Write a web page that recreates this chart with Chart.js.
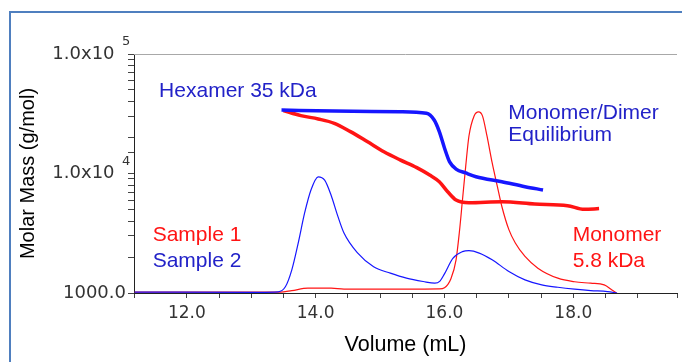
<!DOCTYPE html>
<html>
<head>
<meta charset="utf-8">
<script src="https://cdn.jsdelivr.net/npm/chart.js@4/dist/chart.umd.min.js"></script>
<style>
  html, body { margin: 0; padding: 0; background: #fff; }
</style>
</head>
<body>
<canvas id="chart" width="682" height="362"></canvas>
<script>
// ── Chromatograms (volume in mL, detector signal in % of full scale) ─────────
const s1Vol    = [11.19, 13.45, 13.63, 13.88, 14.24, 14.44, 15.41, 15.92, 16.0, 16.1, 16.18, 16.23, 16.28, 16.33, 16.38, 16.46, 16.53, 16.59, 16.66, 16.74, 16.82, 16.89, 17.0, 17.1, 17.25, 17.45, 17.76, 18.02, 18.27, 18.48, 18.6, 18.67];
const s1Signal = [0.4, 0.4, 1.0, 2.0, 2.0, 1.6, 1.6, 1.7, 2.2, 6.0, 13.9, 25.1, 39.1, 53.1, 65.7, 74.1, 75.8, 74.1, 65.7, 54.5, 44.7, 36.3, 26.5, 20.9, 15.3, 10.4, 6.2, 4.7, 4.1, 3.4, 1.3, 0];

const s2Vol    = [11.19, 13.12, 13.42, 13.53, 13.63, 13.73, 13.83, 13.93, 14.04, 14.14, 14.24, 14.34, 14.44, 14.65, 14.9, 15.16, 15.41, 15.67, 15.85, 15.93, 16.0, 16.13, 16.28, 16.38, 16.54, 16.74, 17.0, 17.25, 17.51, 17.76, 18.02, 18.27, 18.53, 18.68];
const s2Signal = [0.4, 0.3, 0.5, 2.6, 9.7, 21, 33.6, 43.3, 48.6, 47.2, 40.9, 32.5, 25.1, 16.8, 11.0, 8.3, 6.2, 4.8, 4.1, 5.0, 8.0, 14.5, 17.3, 17.7, 16.7, 13.9, 9.0, 5.5, 3.4, 2.4, 1.6, 1.0, 0.6, 0];

// ── Molar mass across the peaks (g/mol) ───────────────────────────────────────
const s1MassVol = [13.5, 13.77, 14.04, 14.29, 14.54, 14.8, 15.06, 15.31, 15.57, 15.77, 15.92, 16.05, 16.18, 16.38, 16.89, 17.4, 17.91, 18.17, 18.4];
const s1Mass    = [33700, 30500, 28600, 26300, 22400, 18500, 15200, 13000, 11200, 9710, 8540, 7040, 6000, 5700, 5810, 5560, 5380, 5010, 5090];

const s2MassVol = [13.47, 14.29, 15.31, 15.72, 15.84, 15.92, 16.0, 16.08, 16.18, 16.33, 16.49, 16.89, 17.25, 17.53];
const s2Mass    = [34000, 33300, 32900, 31900, 28000, 22400, 16350, 12500, 10900, 10100, 9400, 8540, 7760, 7280];

// ── Axis labels ───────────────────────────────────────────────────────────────
const xLabelVols = [12, 14, 16, 18];
const yLabels = { 1000: "1000.0", 10000: "1.0x10  ", 100000: "1.0x10  " };
const yExponents = { 10000: "4", 100000: "5" };

// ── Text notes placed in data coordinates ─────────────────────────────────────
const RED = "#ff1414", BLUE = "#1616ff";
const notes = [
  { text: "Hexamer 35 kDa", vol: 11.57, mass: 49000, color: "#2222c8" },
  { text: "Monomer/Dimer",  vol: 16.99, mass: 32100, color: "#2222c8" },
  { text: "Equilibrium",    vol: 16.99, mass: 21000, color: "#2222c8" },
  { text: "Sample 1",       vol: 11.47, mass: 3060,  color: RED },
  { text: "Sample 2",       vol: 11.47, mass: 1850,  color: "#2222c8" },
  { text: "Monomer",        vol: 17.99, mass: 3060,  color: RED },
  { text: "5.8 kDa",        vol: 17.99, mass: 1850,  color: RED }
];

const pts = (xs, ys) => xs.map((x, i) => ({ x, y: ys[i] }));

const extras = {
  id: "extras",
  beforeDraw(chart) {
    const ctx = chart.ctx;
    ctx.save();
    ctx.strokeStyle = "#4f7fbf";
    ctx.lineWidth = 2;
    ctx.beginPath();
    ctx.moveTo(10, 400);
    ctx.lineTo(10, 12);
    ctx.lineTo(700, 12);
    ctx.stroke();
    ctx.restore();
  },
  afterDraw(chart) {
    const { ctx, chartArea, scales } = chart;
    ctx.save();
    // top border of the plot
    ctx.strokeStyle = "#a8a8a8";
    ctx.lineWidth = 1;
    ctx.beginPath();
    ctx.moveTo(chartArea.left, chartArea.top + 0.5);
    ctx.lineTo(chartArea.right, chartArea.top + 0.5);
    ctx.stroke();
    // exponents on the y tick labels
    ctx.fillStyle = "#333";
    ctx.font = '13px "DejaVu Sans"';
    ctx.textAlign = "left";
    ctx.textBaseline = "middle";
    for (const v in yExponents) {
      const y = scales.y.getPixelForValue(+v);
      ctx.fillText(yExponents[v], chartArea.left - 12, y - 12);
    }
    // notes
    ctx.font = '21px "Liberation Sans"';
    notes.forEach(n => {
      ctx.fillStyle = n.color;
      ctx.fillText(n.text, scales.x.getPixelForValue(n.vol), scales.y.getPixelForValue(n.mass));
    });
    ctx.restore();
  }
};

new Chart(document.getElementById("chart"), {
  type: "line",
  data: {
    datasets: [
      { label: "Sample 1 mass", data: pts(s1MassVol, s1Mass), yAxisID: "y", borderColor: RED, borderWidth: 3.5, order: 1 },
      { label: "Sample 2 mass", data: pts(s2MassVol, s2Mass), yAxisID: "y", borderColor: BLUE, borderWidth: 3.5, order: 0 },
      { label: "Sample 1", data: pts(s1Vol, s1Signal), yAxisID: "sig", borderColor: RED, borderWidth: 1.2, order: 3 },
      { label: "Sample 2", data: pts(s2Vol, s2Signal), yAxisID: "sig", borderColor: BLUE, borderWidth: 1.2, order: 2 }
    ]
  },
  options: {
    responsive: false,
    animation: false,
    devicePixelRatio: 1,
    layout: { padding: { top: 54, left: 0, right: 0, bottom: 0 } },
    elements: {
      point: { radius: 0 },
      line: { cubicInterpolationMode: "monotone", fill: false }
    },
    plugins: { legend: { display: false }, tooltip: { enabled: false } },
    scales: {
      x: {
        type: "linear",
        min: 11.18,
        max: 19.61,
        afterFit: s => { s.height = 69; },
        afterBuildTicks: s => { s.ticks = s.ticks.filter(t => t.value >= s.min && t.value <= s.max); },
        ticks: {
          stepSize: 0.5,
          autoSkip: false,
          maxRotation: 0,
          padding: 5,
          color: "#333",
          font: { family: "DejaVu Sans", size: 17 },
          callback: v => xLabelVols.some(l => Math.abs(l - v) < 1e-6) ? v.toFixed(1) : ""
        },
        grid: { drawOnChartArea: false, tickLength: 5, tickColor: "#444" },
        border: { color: "#222", width: 1 },
        title: {
          display: true,
          text: "Volume (mL)",
          color: "#000",
          font: { family: "Liberation Sans", size: 21.5 },
          padding: { top: 0, bottom: 4 }
        }
      },
      y: {
        type: "logarithmic",
        min: 1000,
        max: 100000,
        afterFit: s => { s.width = 134; },
        ticks: {
          autoSkip: false,
          padding: 2,
          color: "#333",
          font: { family: "DejaVu Sans", size: 18 },
          callback: v => yLabels[v] || ""
        },
        grid: { drawOnChartArea: false, tickLength: 6, tickColor: "#444" },
        border: { color: "#222", width: 1 },
        title: {
          display: true,
          text: "Molar Mass (g/mol)",
          color: "#000",
          font: { family: "Liberation Sans", size: 20 },
          padding: { top: 16, bottom: 0 }
        }
      },
      sig: { type: "linear", display: false, min: 0, max: 100 }
    }
  },
  plugins: [extras]
});
</script>
</body>
</html>
